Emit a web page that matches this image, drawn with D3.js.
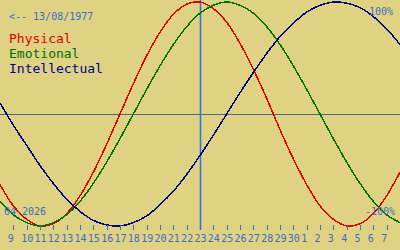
<!DOCTYPE html>
<html><head><meta charset="utf-8">
<script src="https://cdn.jsdelivr.net/npm/d3@7"></script>
<style>
html,body{margin:0;padding:0;background:#e0d283;}
svg{display:block;}
text{font-family:"DejaVu Sans Mono",monospace;}
</style></head>
<body><svg id="c" width="400" height="250"></svg>
<script>
// day labels (index 0..28), curve samples start one day before (index -1 .. 29)
const dayLabels = ["9","10","11","12","13","14","15","16","17","18","19","20","21","22","23","24","25","26","27","28","29","30","1","2","3","4","5","6","7"];
const sampleStart = -1;
const physical = [-0.63,-0.82,-0.94,-1.00,-0.98,-0.89,-0.73,-0.52,-0.27,0.00,0.27,0.52,0.73,0.89,0.98,1.00,0.94,0.82,0.63,0.40,0.14,-0.14,-0.40,-0.63,-0.82,-0.94,-1.00,-0.98,-0.89,-0.73,-0.52];
const emotional = [-0.78,-0.90,-0.97,-1.00,-0.97,-0.90,-0.78,-0.62,-0.43,-0.22,0.00,0.22,0.43,0.62,0.78,0.90,0.97,1.00,0.97,0.90,0.78,0.62,0.43,0.22,0.00,-0.22,-0.43,-0.62,-0.78,-0.90,-0.97];
const intellectual = [0.10,-0.10,-0.28,-0.46,-0.62,-0.76,-0.87,-0.95,-0.99,-1.00,-0.97,-0.91,-0.81,-0.69,-0.54,-0.37,-0.19,0.00,0.19,0.37,0.54,0.69,0.81,0.91,0.97,1.00,0.99,0.95,0.87,0.76,0.62];
const seriesNames = ["Physical","Emotional","Intellectual"];
const seriesColors = ["#e00000","#007000","#000088"];
const todayIndex = 14;
const birthLabel = "<-- 13/08/1977";
const monthLabel = "04-2026";
const topLabel = "100%";
const bottomLabel = "-100%";

const svg = d3.select("#c");
const W = 400, H = 250;
svg.append("rect").attr("width",W).attr("height",H).attr("fill","#e0d283");

const x = d3.scaleLinear().domain([-1, 29]).range([0, 400]);
const y = d3.scaleLinear().domain([-1, 1]).range([226, 2]);

// midline
svg.append("line").attr("x1",0).attr("x2",W).attr("y1",Math.round(y(0))+0.5).attr("y2",Math.round(y(0))+0.5)
  .attr("stroke","#4a6890").attr("stroke-width",1);

// today vertical line
svg.append("line").attr("x1",x(todayIndex)+0.5).attr("x2",x(todayIndex)+0.5).attr("y1",0).attr("y2",230)
  .attr("stroke","#2f78d8").attr("stroke-width",1.6);

// curves
const line = d3.line().x((d,i)=>x(i+sampleStart)).y(d=>y(d)).curve(d3.curveCatmullRom.alpha(0.5));
[physical, emotional, intellectual].forEach((s,k)=>{
  svg.append("path").attr("d", line(s)).attr("fill","none")
    .attr("stroke", seriesColors[k]).attr("stroke-width",1.5)
    .attr("shape-rendering","crispEdges");
});

// ticks and labels
const tg = svg.append("g");
dayLabels.forEach((lab,i)=>{
  const xx = Math.round(x(i))+0.5;
  tg.append("line").attr("x1",xx).attr("x2",xx).attr("y1",225).attr("y2",230)
    .attr("stroke","#3a70c0").attr("stroke-width",1);
  tg.append("text").attr("x", x(i)+0.5)
    .attr("y",242).attr("text-anchor", lab.length===1 ? "end" : "middle")
    .attr("font-size",10).attr("fill","#3a70c0").text(lab);
});

// texts
svg.append("text").attr("x",9).attr("y",20).attr("font-size",10).attr("fill","#3a70c0").text(birthLabel);
seriesNames.forEach((n,k)=>{
  svg.append("text").attr("x",9).attr("y",43+k*15).attr("font-size",13).attr("fill",seriesColors[k]).text(n);
});
svg.append("text").attr("x",393).attr("y",15).attr("text-anchor","end").attr("font-size",10).attr("fill","#3a70c0").text(topLabel);
svg.append("text").attr("x",395).attr("y",215).attr("text-anchor","end").attr("font-size",10).attr("fill","#3a70c0").text(bottomLabel);
svg.append("text").attr("x",4).attr("y",215).attr("font-size",10).attr("fill","#3a70c0").text(monthLabel);
</script></body></html>
